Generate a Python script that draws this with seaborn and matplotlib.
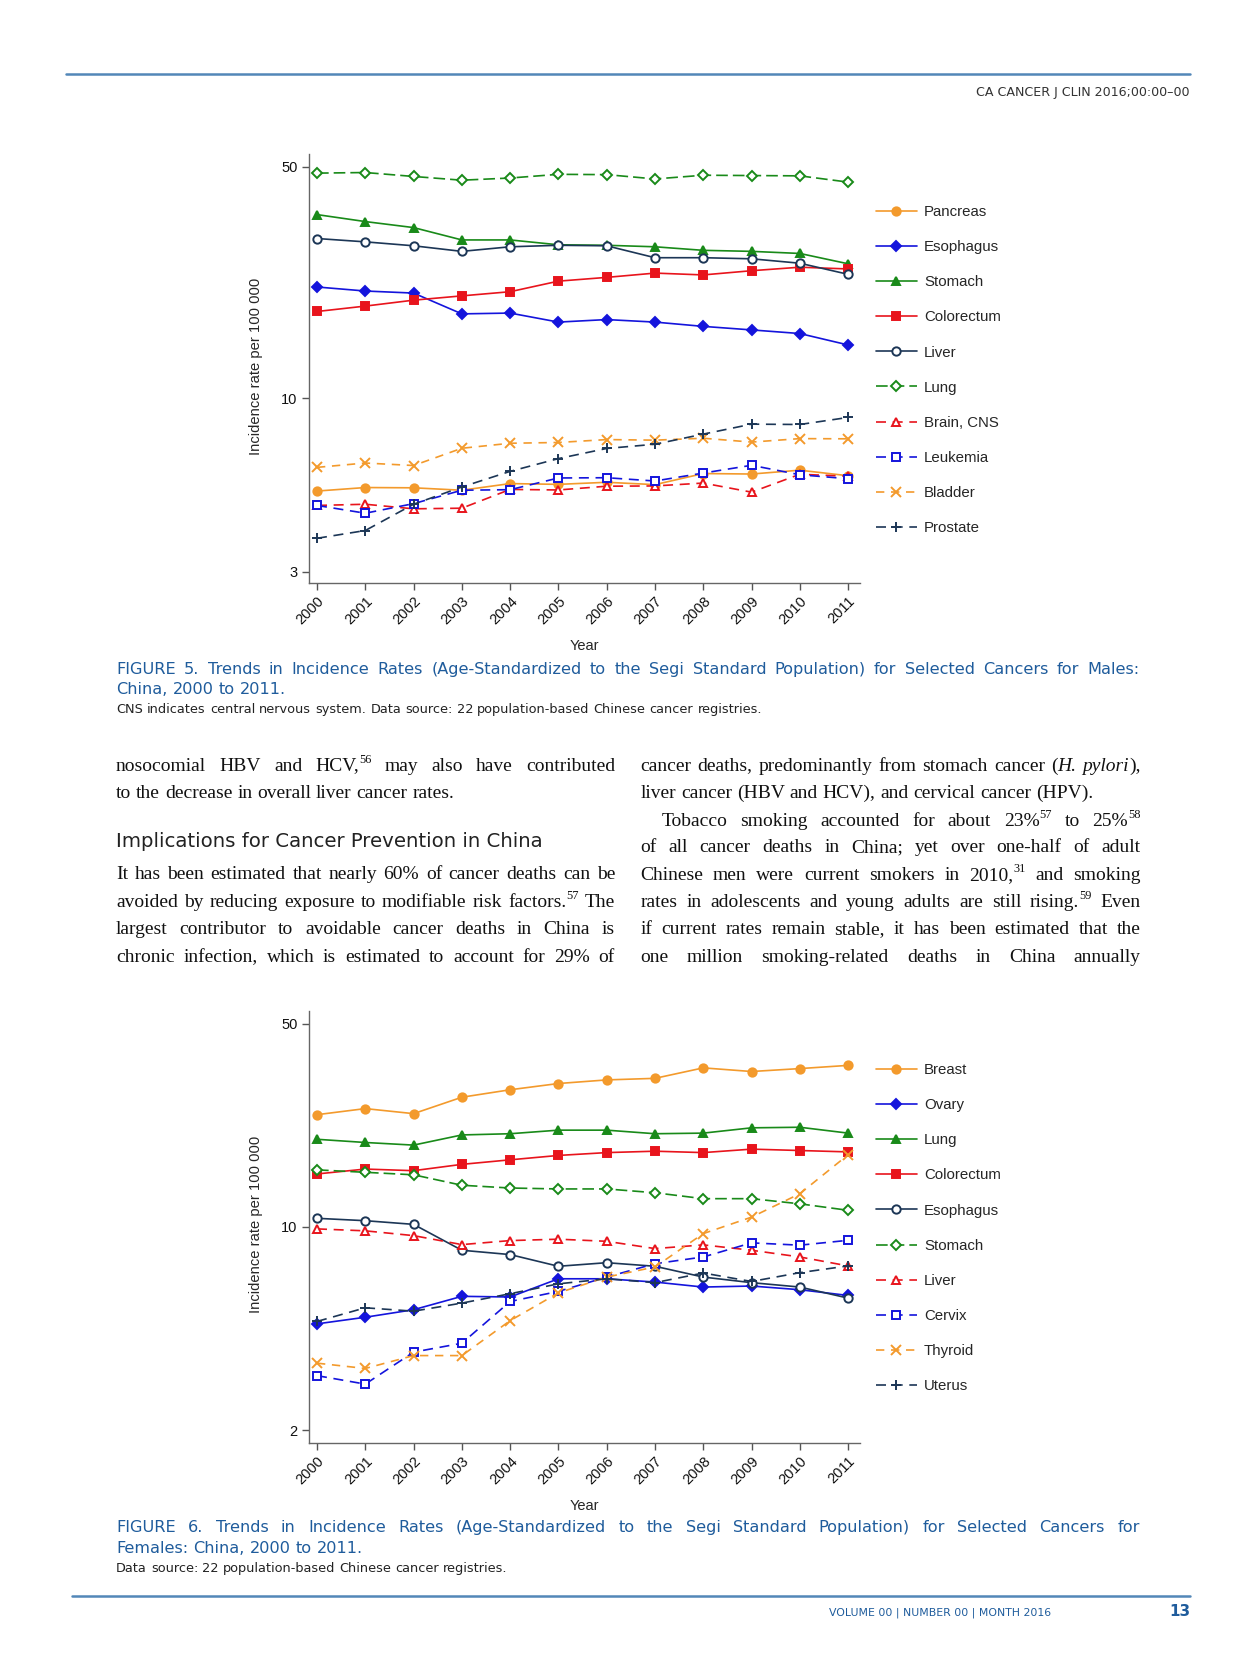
import numpy as np
import pandas as pd
import matplotlib
matplotlib.use('Agg')
import matplotlib.pyplot as plt
import seaborn as sns
from matplotlib.lines import Line2D
from matplotlib.ticker import NullLocator

W, H = 1256, 1669

# ------------------------------------
# --- Dados (leitura do grafico)
# ------------------------------------
years = list(range(2000, 2012))

male_sites = ['Pancreas', 'Esophagus', 'Stomach', 'Colorectum', 'Liver',
              'Lung', 'Brain, CNS', 'Leukemia', 'Bladder', 'Prostate']
male_pancreas   = [5.25, 5.38, 5.37, 5.28, 5.53, 5.50, 5.58, 5.49, 5.93, 5.91, 6.07, 5.84]
male_esophagus  = [21.7, 21.1, 20.8, 18.0, 18.1, 17.0, 17.3, 17.0, 16.5, 16.1, 15.7, 14.5]
male_stomach    = [35.9, 34.2, 32.8, 30.1, 30.1, 29.1, 29.0, 28.7, 28.0, 27.8, 27.4, 25.5]
male_colorectum = [18.3, 19.0, 19.8, 20.4, 21.0, 22.6, 23.2, 23.9, 23.6, 24.3, 24.9, 24.6]
male_liver      = [30.4, 29.7, 28.9, 27.8, 28.7, 29.0, 28.9, 26.6, 26.6, 26.4, 25.6, 23.7]
male_lung       = [47.9, 48.1, 46.8, 45.6, 46.3, 47.5, 47.4, 46.0, 47.2, 47.1, 47.0, 45.0]
male_brain      = [4.75, 4.79, 4.64, 4.66, 5.31, 5.29, 5.43, 5.44, 5.55, 5.21, 5.90, 5.82]
male_leukemia   = [4.75, 4.50, 4.81, 5.28, 5.30, 5.75, 5.76, 5.63, 5.95, 6.28, 5.88, 5.72]
male_bladder    = [6.19, 6.38, 6.27, 7.07, 7.32, 7.36, 7.51, 7.48, 7.58, 7.38, 7.56, 7.55]
male_prostate   = [3.78, 3.99, 4.79, 5.40, 6.02, 6.58, 7.06, 7.27, 7.80, 8.36, 8.34, 8.76]
male_rates = [male_pancreas, male_esophagus, male_stomach, male_colorectum, male_liver,
              male_lung, male_brain, male_leukemia, male_bladder, male_prostate]

female_sites = ['Breast', 'Ovary', 'Lung', 'Colorectum', 'Esophagus',
                'Stomach', 'Liver', 'Cervix', 'Thyroid', 'Uterus']
female_breast     = [24.3, 25.5, 24.5, 27.9, 29.6, 31.1, 32.0, 32.4, 35.2, 34.2, 35.0, 35.9]
female_ovary      = [4.64, 4.89, 5.19, 5.77, 5.74, 6.63, 6.63, 6.46, 6.21, 6.26, 6.08, 5.81]
female_lung       = [20.0, 19.5, 19.1, 20.7, 20.9, 21.5, 21.5, 20.9, 21.0, 21.9, 22.0, 21.0]
female_colorectum = [15.2, 15.8, 15.6, 16.4, 17.0, 17.6, 18.0, 18.2, 18.0, 18.5, 18.3, 18.1]
female_esophagus  = [10.7, 10.5, 10.2, 8.31, 8.03, 7.32, 7.53, 7.32, 6.72, 6.43, 6.21, 5.69]
female_stomach    = [15.7, 15.4, 15.1, 13.9, 13.6, 13.5, 13.5, 13.1, 12.5, 12.5, 12.0, 11.4]
female_liver      = [9.84, 9.69, 9.33, 8.69, 8.97, 9.07, 8.92, 8.42, 8.67, 8.31, 7.88, 7.34]
female_cervix     = [3.08, 2.88, 3.71, 3.98, 5.54, 6.00, 6.72, 7.47, 7.88, 8.81, 8.65, 8.99]
female_thyroid    = [3.40, 3.26, 3.61, 3.61, 4.76, 5.93, 6.72, 7.28, 9.48, 10.8, 13.0, 17.7]
female_uterus     = [4.73, 5.27, 5.13, 5.47, 5.89, 6.37, 6.63, 6.43, 6.94, 6.49, 6.96, 7.34]
female_rates = [female_breast, female_ovary, female_lung, female_colorectum, female_esophagus,
                female_stomach, female_liver, female_cervix, female_thyroid, female_uterus]

# Estilos (cor, linha, marcador, preenchido) na ordem da legenda
orange = '#f39a2c'
blue   = '#1414dc'
green  = '#198a19'
red    = '#e8141c'
navy   = '#1c3656'
STYLES = [
    (orange, '-', 'o', True),
    (blue,   '-', 'D', True),
    (green,  '-', '^', True),
    (red,    '-', 's', True),
    (navy,   '-', 'o', False),
    (green,  (0, (7, 3)), 'D', False),
    (red,    (0, (6, 4)), '^', False),
    (blue,   (0, (6, 4)), 's', False),
    (orange, (0, (5, 4)), 'x', True),
    (navy,   (0, (6, 4)), '+', True),
]

sns.set_style('ticks')
plt.rcParams['font.family'] = ['Liberation Sans', 'DejaVu Sans']

fig = plt.figure(figsize=(W / 100, H / 100), dpi=100)
fig.patch.set_facecolor('white')


def fx(x):
    return x / W


def fy(y):
    return 1 - y / H


# ------------------------------------
# --- Graficos
# ------------------------------------
def draw_panel(ax, sites, rates, ylim, yticks, legend_top):
    df = pd.DataFrame({
        'Year': np.tile(years, len(sites)),
        'Rate': np.concatenate(rates),
        'Site': np.repeat(sites, len(years)),
    })
    for i, site in enumerate(sites):
        color, ls, mk, filled = STYLES[i]
        msize = 7 if mk in ('x', '+') else 6
        if mk == 'D':
            msize = 5
        sns.lineplot(
            data=df[df['Site'] == site], x='Year', y='Rate', ax=ax,
            errorbar=None, color=color, linestyle=ls, linewidth=1.2,
            marker=mk, markersize=msize,
            markerfacecolor=color if filled else 'white',
            markeredgecolor=color, markeredgewidth=1.4,
        )
    ax.set_yscale('log')
    ax.set_ylim(*ylim)
    ax.set_xlim(1999.826, 2011.24)
    ax.set_yticks(yticks)
    ax.set_yticklabels([str(t) for t in yticks], fontsize=10.5)
    ax.yaxis.set_minor_locator(NullLocator())
    ax.set_xticks(years)
    ax.set_xticklabels([str(y) for y in years], rotation=45, ha='right',
                       rotation_mode='anchor', fontsize=10.5)
    ax.set_xlabel('Year', fontsize=10.5)
    ax.set_ylabel('Incidence rate per 100 000', fontsize=10.6)
    ax.yaxis.set_label_coords(-0.082, 0.505)
    ax.xaxis.set_label_coords(0.5, -0.13)
    ax.tick_params(axis='both', direction='out', length=5, width=1,
                   color='#555555', labelcolor='#111111', pad=3)
    for s in ['top', 'right']:
        ax.spines[s].set_visible(False)
    for s in ['left', 'bottom']:
        ax.spines[s].set_color('#666666')
        ax.spines[s].set_linewidth(1)
    ax.legend(ax.get_lines(), sites, loc='upper left',
              bbox_to_anchor=(fx(876), fy(legend_top)), bbox_transform=fig.transFigure,
              frameon=False, fontsize=10.8, handlelength=2.7, handletextpad=0.5,
              labelspacing=1.41, borderpad=0, borderaxespad=0, numpoints=1)


ax1 = fig.add_axes([fx(308.6), fy(583), 551.1 / W, 428.7 / H])
draw_panel(ax1, male_sites, male_rates, (2.77, 54.6), [3, 10, 50], 205)

ax2 = fig.add_axes([fx(308.6), fy(1442.8), 551.1 / W, 432 / H])
draw_panel(ax2, female_sites, female_rates, (1.81, 55.3), [2, 10, 50], 1063)

# ------------------------------------
# --- Texto da pagina
# ------------------------------------
renderer = fig.canvas.get_renderer()


def text_width(s, **kw):
    t = fig.text(0, 0, s, **kw)
    w = t.get_window_extent(renderer).width
    t.remove()
    return w


def split_word(word, kw):
    # segmentos separados por '|': 's:' = sobrescrito, 'i:' = italico
    segs = []
    for part in word.split('|'):
        k = dict(kw)
        dy = 0
        if part.startswith('s:'):
            part = part[2:]
            k['fontsize'] = kw['fontsize'] * 0.64
            dy = kw['fontsize'] * 100 / 72 * 0.40
        elif part.startswith('i:'):
            part = part[2:]
            k['fontstyle'] = 'italic'
        segs.append((part, k, dy, text_width(part, **k)))
    return segs


def put_line(words, x0, x1, y, justify=True, **kw):
    items = [split_word(w, kw) for w in words]
    widths = [sum(s[3] for s in segs) for segs in items]
    if justify and len(words) > 1:
        gap = (x1 - x0 - sum(widths)) / (len(words) - 1)
    else:
        gap = text_width('a a', **kw) - text_width('aa', **kw)
    x = x0
    for segs, wd in zip(items, widths):
        xs = x
        for part, k, dy, sw in segs:
            fig.text(fx(xs), fy(y - dy), part, va='baseline', ha='left', **k)
            xs += sw
        x += wd + gap


rule_color = '#5287b8'
cap_color = '#1f5c9c'
fig.add_artist(Line2D([fx(66), fx(1190)], [fy(74.5), fy(74.5)], color=rule_color, lw=1.8))
fig.add_artist(Line2D([fx(72.4), fx(1190)], [fy(1596), fy(1596)], color=rule_color, lw=1.8))
fig.text(fx(1190), fy(96), 'CA CANCER J CLIN 2016;00:00\u201300', ha='right', va='baseline',
         fontsize=9.1, color='#333333', family=['DejaVu Sans'])
fig.text(fx(1051), fy(1615), 'VOLUME 00 | NUMBER 00 | MONTH 2016', ha='right', va='baseline',
         fontsize=7.8, color=cap_color, family=['DejaVu Sans'])
fig.text(fx(1190), fy(1616), '13', ha='right', va='baseline',
         fontsize=11, color=cap_color, fontweight='bold', family=['DejaVu Sans'])

cap_kw = dict(fontsize=11.6, color=cap_color, family=['DejaVu Sans'])
note_kw = dict(fontsize=9.25, color='#222222', family=['DejaVu Sans'])

put_line(('FIGURE 5. Trends in Incidence Rates (Age-Standardized to the Segi Standard '
          'Population) for Selected Cancers for Males:').split(), 116, 1139.5, 674, **cap_kw)
put_line('China, 2000 to 2011.'.split(), 116, 1139.5, 694, justify=False, **cap_kw)
put_line(('CNS indicates central nervous system. Data source: 22 population-based '
          'Chinese cancer registries.').split(), 116, 1139.5, 712.5, justify=False, **note_kw)

put_line(('FIGURE 6. Trends in Incidence Rates (Age-Standardized to the Segi Standard '
          'Population) for Selected Cancers for').split(), 116, 1139.5, 1532, **cap_kw)
put_line('Females: China, 2000 to 2011.'.split(), 116, 1139.5, 1553, justify=False, **cap_kw)
put_line('Data source: 22 population-based Chinese cancer registries.'.split(),
         116, 1139.5, 1572, justify=False, **note_kw)

body_kw = dict(fontsize=14.0, color='#111111', family=['Liberation Serif', 'DejaVu Serif'])
left_lines = [
    ('nosocomial HBV and HCV,|s:56 may also have contributed', 770.5, True),
    ('to the decrease in overall liver cancer rates.', 798, False),
    ('It has been estimated that nearly 60% of cancer deaths can be', 879, True),
    ('avoided by reducing exposure to modifiable risk factors.|s:57 The', 906.5, True),
    ('largest contributor to avoidable cancer deaths in China is', 934.3, True),
    ('chronic infection, which is estimated to account for 29% of', 962, True),
]
for s, y, j in left_lines:
    put_line(s.split(), 116, 615, y, justify=j, **body_kw)

fig.text(fx(116), fy(846.6), 'Implications for Cancer Prevention in China', ha='left',
         va='baseline', fontsize=14.2, color='#222222', family=['DejaVu Sans'])

right_lines = [
    ('cancer deaths, predominantly from stomach cancer (|i:H. i:pylori|),',
     640.5, 770.5, True),
    ('liver cancer (HBV and HCV), and cervical cancer (HPV).', 640.5, 798, False),
    ('Tobacco smoking accounted for about 23%|s:57 to 25%|s:58', 662, 825.8, True),
    ('of all cancer deaths in China; yet over one-half of adult', 640.5, 852.4, True),
    ('Chinese men were current smokers in 2010,|s:31 and smoking', 640.5, 880, True),
    ('rates in adolescents and young adults are still rising.|s:59 Even', 640.5, 906.5, True),
    ('if current rates remain stable, it has been estimated that the', 640.5, 934.3, True),
    ('one million smoking-related deaths in China annually', 640.5, 962, True),
]
for s, x0, y, j in right_lines:
    put_line(s.split(), x0, 1140.6, y, justify=j, **body_kw)

fig.savefig('out.png', dpi=100, facecolor='white')
